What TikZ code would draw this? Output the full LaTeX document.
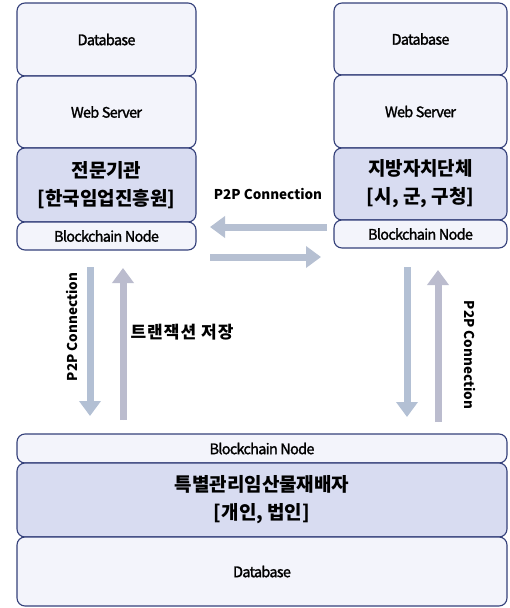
\documentclass[tikz,border=0pt]{standalone}
\usepackage{fontspec}
\usetikzlibrary{arrows.meta}
\setmainfont{Noto Sans CJK KR}
\newfontfamily\engfont[LetterSpace=-5,FakeBold=1.6]{Noto Sans CJK KR}
\newfontfamily\kofont{Noto Sans CJK KR}
\newfontfamily\txfont[LetterSpace=6]{Noto Sans CJK KR}
\definecolor{edge}{HTML}{34407A}
\definecolor{lightfill}{HTML}{F3F4FB}
\definecolor{kofill}{HTML}{D8DCF1}
\definecolor{arrdown}{HTML}{B3C0D4}
\definecolor{arrup}{HTML}{BBBCCE}
\definecolor{arrh}{HTML}{B6C0D2}
\tikzset{
  box/.style={draw=edge, line width=1.1pt, rounded corners=8pt, inner sep=0pt, align=center, fill=lightfill},
  engbox/.style={box, font=\engfont\fontsize{14.5}{16}\selectfont},
  kobox/.style={box, fill=kofill, font=\kofont\bfseries\fontsize{19}{28}\selectfont},
  fatarrow/.style={line width=7pt, -{Triangle[width=21pt,length=15pt]}},
  lbl/.style={font=\kofont\bfseries\fontsize{13.5}{15}\selectfont, inner sep=0pt}
}
\begin{document}
\begin{tikzpicture}[x=1pt,y=-1pt]
\useasboundingbox (0,0) rectangle (509,608);
% left column
\node[engbox, minimum width=179pt, minimum height=73pt] (ldb) at (106.5,39.5) {Database};
\node[engbox, minimum width=179pt, minimum height=72pt] (lws) at (106.5,112) {Web Server};
\node[kobox, minimum width=179pt, minimum height=74pt] (lko) at (106.5,185) {전문기관\\{[}한국임업진흥원]};
\node[engbox, minimum width=179pt, minimum height=28pt] (lbn) at (106.5,236) {Blockchain Node};
% right column
\node[engbox, minimum width=173pt, minimum height=72pt] (rdb) at (420.5,39) {Database};
\node[engbox, minimum width=173pt, minimum height=73pt] (rws) at (420.5,111.5) {Web Server};
\node[kobox, minimum width=173pt, minimum height=72pt] (rko) at (420.5,184) {지방자치단체\\{[}시, 군, 구청]};
\node[engbox, minimum width=173pt, minimum height=28pt] (rbn) at (420.5,234) {Blockchain Node};
% bottom
\node[engbox, minimum width=490pt, minimum height=29pt] (bbn) at (262,448.5) {Blockchain Node};
\node[kobox, minimum width=490pt, minimum height=74pt] (bko) at (262,500) {특별관리임산물재배자\\{[}개인, 법인]};
\node[engbox, minimum width=490pt, minimum height=69pt] (bdb) at (262,571.5) {Database};
% arrow end points
\coordinate (h1s) at (327,227);
\coordinate (h1e) at (210,227);
\coordinate (h2s) at (210,257);
\coordinate (h2e) at (321,257);
\coordinate (v1s) at (90,267);
\coordinate (v1e) at (90,416);
\coordinate (v2s) at (123,420);
\coordinate (v2e) at (123,268);
\coordinate (v3s) at (407,267);
\coordinate (v3e) at (407,417);
\coordinate (v4s) at (438,422);
\coordinate (v4e) at (438,270);
\draw[fatarrow, draw=arrh, fill=arrh] (h1s) -- (h1e);
\draw[fatarrow, draw=arrh, fill=arrh] (h2s) -- (h2e);
\draw[fatarrow, draw=arrdown, fill=arrdown] (v1s) -- (v1e);
\draw[fatarrow, draw=arrup, fill=arrup] (v2s) -- (v2e);
\draw[fatarrow, draw=arrdown, fill=arrdown] (v3s) -- (v3e);
\draw[fatarrow, draw=arrup, fill=arrup] (v4s) -- (v4e);
% labels
\node[lbl] (p2ph) at (268,194) {P2P Connection};
\node[lbl, rotate=90] (p2pl) at (72,327) {P2P Connection};
\node[lbl, rotate=-90] (p2pr) at (470,355) {P2P Connection};
\node[font=\txfont\bfseries\fontsize{17}{19}\selectfont, inner sep=0pt] (tx) at (182,332) {트랜잭션 저장};
\end{tikzpicture}
\end{document}
